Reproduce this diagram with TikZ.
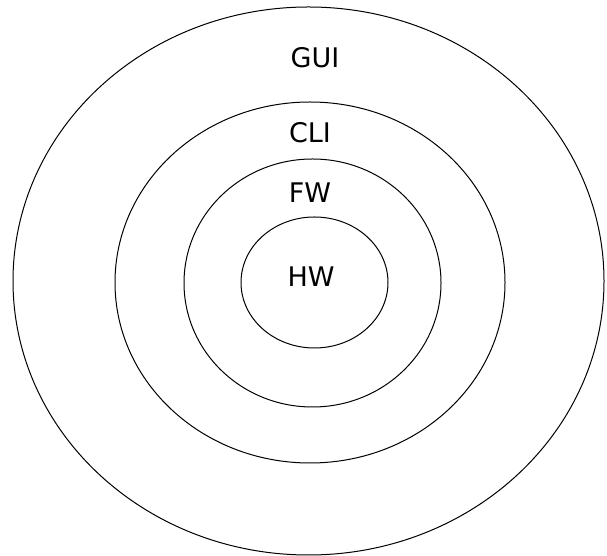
\documentclass[tikz,border=0pt]{standalone}
\usepackage{fontspec}
\setmainfont{DejaVu Sans}
\usepackage{tikz}

\tikzset{
    layer/.style={anchor=base, inner sep=0pt, font=\fontsize{27}{30}\selectfont}
}

\begin{document}
\begin{tikzpicture}[x=1pt,y=1pt,line width=1pt]
            \useasboundingbox (0,0) rectangle (607,556);

            % rings, outermost first
            \foreach \cx/\cy/\rx/\ry in {308.5/275/295.5/274, 310/273.5/195/180.5,
                                         312.5/273/128.5/124, 314.5/273.5/73.5/65.5}{
                \draw (\cx,\cy) ellipse ({\rx} and {\ry});
            }

            \node[layer] (gui) at (315,488) {GUI};
            \node[layer] (cli) at (310,413) {CLI};
            \node[layer] (fw)  at (310,353) {FW};
            \node[layer] (hw)  at (311,269) {HW};
        \end{tikzpicture}
\end{document}
